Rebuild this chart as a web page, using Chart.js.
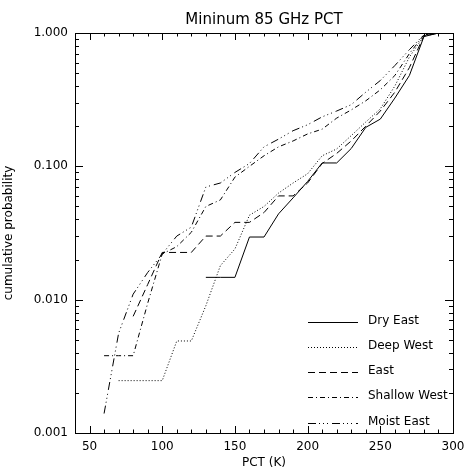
<!DOCTYPE html>
<html><head><meta charset="utf-8">
<script src="https://cdn.jsdelivr.net/npm/chart.js@4.4.1/dist/chart.umd.min.js"></script>
<style>html,body{margin:0;padding:0;background:#fff;}</style>
</head><body>
<canvas id="c" width="467" height="475"></canvas>
<script>
// ---- data ----
const temps = [60,70,80,90,100,110,120,130,140,150,160,170,180,190,200,210,220,230,240,250,260,270,280,290,300];
const seriesNames = ['Dry East','Deep West','East','Shallow West','Moist East'];
const dryEast     = [null,null,null,null,null,null,null,0.0147,0.0147,0.0147,0.0295,0.0295,0.044,0.058,0.077,0.106,0.106,0.136,0.196,0.226,0.325,0.48,0.94,1.0,1.0];
const deepWest    = [null,0.00247,0.00247,0.00247,0.00247,0.0049,0.0049,0.009,0.018,0.024,0.043,0.05,0.063,0.075,0.088,0.12,0.135,0.17,0.215,0.27,0.40,0.66,0.95,1.0,1.0];
const east        = [null,null,0.0075,0.013,0.0226,0.0226,0.0226,0.03,0.03,0.038,0.038,0.045,0.06,0.06,0.075,0.105,0.125,0.155,0.20,0.26,0.36,0.55,0.95,1.0,1.0];
const shallowWest = [0.0038,0.0038,0.0038,0.0094,0.022,0.025,0.032,0.05,0.056,0.083,0.10,0.12,0.14,0.155,0.175,0.19,0.23,0.265,0.31,0.375,0.48,0.70,0.97,1.0,1.0];
const moistEast   = [0.0014,0.0056,0.011,0.016,0.022,0.03,0.035,0.07,0.075,0.09,0.105,0.14,0.16,0.185,0.205,0.235,0.26,0.29,0.36,0.44,0.57,0.75,0.97,1.0,1.0];
const seriesValues = [dryEast, deepWest, east, shallowWest, moistEast];
const xTickValues = [50,100,150,200,250,300];
const yTickValues = [0.001,0.01,0.1,1];
const yTickLabels = ['0.001','0.010','0.100','1.000'];
const chartTitle = 'Mininum 85 GHz PCT';

// ---- styles ----
const dashes = [[], [1,2], [7,4], [5,3,1,3], [8,3,1,3,1,3,1,4]];
const FONT = 'DejaVu Sans';

const datasets = seriesNames.map((name,i)=>({
  label: name,
  data: temps.map((t,j)=>({x:t,y:seriesValues[i][j]})).filter(p=>p.y!==null),
  borderColor:'#000', borderWidth:1, borderDash:dashes[i],
  pointRadius:0, fill:false, tension:0
}));

const framePlugin = {
  id:'frame',
  afterDatasetsDraw(chart){
    const {ctx, chartArea:a, scales:{x,y}} = chart;
    ctx.save();
    ctx.strokeStyle='#000'; ctx.lineWidth=1; ctx.setLineDash([]);
    ctx.strokeRect(Math.round(a.left)+0.5, Math.round(a.top)+0.5, Math.round(a.right-a.left), Math.round(a.bottom-a.top));
    ctx.beginPath();
    for(let v=x.min; v<=x.max; v+=10){
      const px = Math.round(x.getPixelForValue(v))+0.5;
      const len = xTickValues.includes(v)?7:3.5;
      ctx.moveTo(px,a.bottom); ctx.lineTo(px,a.bottom-len);
      ctx.moveTo(px,a.top); ctx.lineTo(px,a.top+len);
    }
    for(let d=0; d<yTickValues.length; d++){
      const base = yTickValues[d];
      for(let m=1;m<=9;m++){
        const v = base*m; if(v>y.max*1.0001) break;
        const py = Math.round(y.getPixelForValue(v))+0.5;
        const len = m===1?8:4;
        ctx.moveTo(a.left,py); ctx.lineTo(a.left+len,py);
        ctx.moveTo(a.right,py); ctx.lineTo(a.right-len,py);
      }
    }
    ctx.stroke();
    // title centred over the plot area
    ctx.fillStyle='#000'; ctx.textBaseline='middle'; ctx.textAlign='center';
    ctx.font = '15px "'+FONT+'"';
    ctx.fillText(chartTitle, (a.left+a.right)/2, a.top-13);
    // legend
    ctx.font = '12px "'+FONT+'"';
    ctx.textAlign='left';
    chart.data.datasets.forEach((ds,i)=>{
      const ly = Math.round(a.top + 288.5 + i*25.3)+0.5;
      ctx.beginPath(); ctx.setLineDash(ds.borderDash);
      ctx.moveTo(a.right-145, ly); ctx.lineTo(a.right-95, ly); ctx.stroke();
      ctx.fillText(ds.label, a.right-85, ly-2);
    });
    ctx.restore();
  }
};

new Chart(document.getElementById('c'), {
  type:'line',
  data:{datasets},
  options:{
    responsive:false, animation:false, devicePixelRatio:1,
    layout:{padding:{left:0,right:14,top:33,bottom:0}},
    plugins:{
      legend:{display:false}, tooltip:{enabled:false}, title:{display:false}
    },
    scales:{
      x:{type:'linear', min:40, max:300,
        afterBuildTicks:s=>{s.ticks = xTickValues.map(v=>({value:v}));},
        afterFit:s=>{s.height=42; s.paddingRight=0; s.paddingLeft=0;},
        grid:{display:false, drawTicks:false}, border:{display:false},
        ticks:{color:'#000', font:{family:FONT,size:12}, padding:7, maxRotation:0, autoSkip:false},
        title:{display:true, text:'PCT (K)', color:'#000', font:{family:FONT,size:12}, padding:{top:0,bottom:5}}
      },
      y:{type:'logarithmic', min:0.001, max:1,
        afterBuildTicks:s=>{s.ticks = yTickValues.map(v=>({value:v}));},
        afterFit:s=>{s.width=75; s.paddingTop=0; s.paddingBottom=0;},
        grid:{display:false, drawTicks:false}, border:{display:false},
        ticks:{color:'#000', font:{family:FONT,size:12}, padding:7, autoSkip:false,
          callback:(v,i)=>yTickLabels[i]},
        title:{display:true, text:'cumulative probability', color:'#000', font:{family:FONT,size:12}, padding:{top:2,bottom:0}}
      }
    }
  },
  plugins:[framePlugin]
});
</script>
</body></html>
